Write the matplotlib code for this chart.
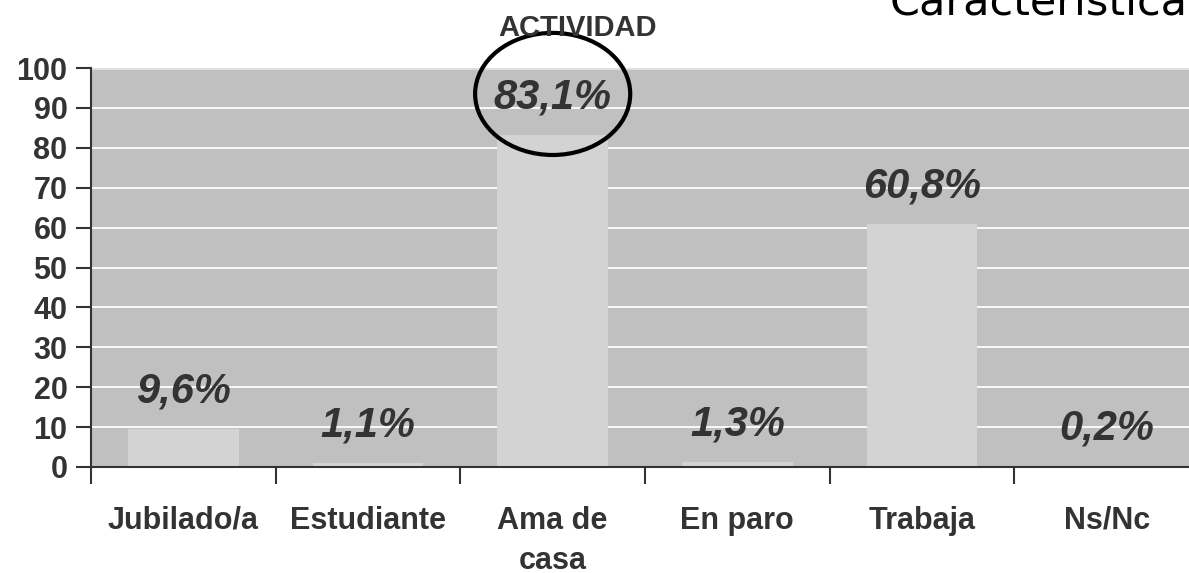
import matplotlib
matplotlib.use("Agg")
import matplotlib.pyplot as plt
from matplotlib.patches import Ellipse

# --- datos ---
categorias = ["Jubilado/a", "Estudiante", "Ama de\ncasa", "En paro", "Trabaja", "Ns/Nc"]
valores = [9.6, 1.1, 83.1, 1.3, 60.8, 0.2]
etiquetas = ["9,6%", "1,1%", "83,1%", "1,3%", "60,8%", "0,2%"]
yticks = list(range(0, 101, 10))

plt.rcParams['font.family'] = ['Liberation Sans', 'DejaVu Sans']
oscuro = '#333333'

fig = plt.figure(figsize=(11.89, 5.73), dpi=100)
ax = fig.add_axes([91 / 1189, 106 / 573, 1108 / 1189, 399 / 573])
ax.set_facecolor('#c0c0c0')

x = list(range(len(categorias)))
ax.bar(x, valores, width=0.6, color='#d3d3d3', zorder=2)

ax.set_ylim(0, 100)
ax.set_xlim(-0.5, len(categorias) - 0.5)
ax.set_yticks(yticks)
ax.set_yticklabels([str(v) for v in yticks], fontsize=22, fontweight='bold', color=oscuro)
ax.yaxis.grid(True, color='white', linewidth=1.3, zorder=1)
ax.set_axisbelow(True)

# ticks del eje x en los limites de categoria, etiquetas centradas
ax.set_xticks([i - 0.5 for i in x])
ax.set_xticklabels([])
ax.set_xticks(x, minor=True)
ax.set_xticklabels(categorias, minor=True, fontsize=22, fontweight='bold',
                   color=oscuro, linespacing=1.45)
ax.tick_params(axis='x', which='minor', length=0, pad=28)
ax.tick_params(axis='x', which='major', length=12, width=1.5, color=oscuro)
ax.tick_params(axis='y', length=11, width=1.5, color=oscuro, pad=6)

for s in ['top', 'right']:
    ax.spines[s].set_visible(False)
ax.spines['left'].set_color(oscuro)
ax.spines['bottom'].set_color(oscuro)
ax.spines['left'].set_linewidth(1.5)
ax.spines['bottom'].set_linewidth(1.5)
ax.axhline(100, color='#e0e0e0', linewidth=2, zorder=1)

for xi, v, t in zip(x, valores, etiquetas):
    ax.annotate(t, (xi, v), xytext=(0, 27), textcoords='offset points',
                ha='center', va='center', fontsize=30, fontweight='bold',
                fontstyle='italic', color=oscuro, zorder=4)

# circulo alrededor de 83,1%
ax.add_patch(Ellipse((2, 93.5), 0.84, 30.6, fill=False, edgecolor='black',
                     linewidth=3, clip_on=False, zorder=5))

fig.text(578 / 1189, 1 - 28 / 573, "ACTIVIDAD", ha='center', va='center',
         fontsize=21, fontweight='bold', color=oscuro)
fig.text(1188 / 1189, 1 - 15 / 573, "Característica", ha='right', va='baseline',
         fontsize=31, color='black', family=['DejaVu Sans'])

fig.savefig("out.png", dpi=100)
